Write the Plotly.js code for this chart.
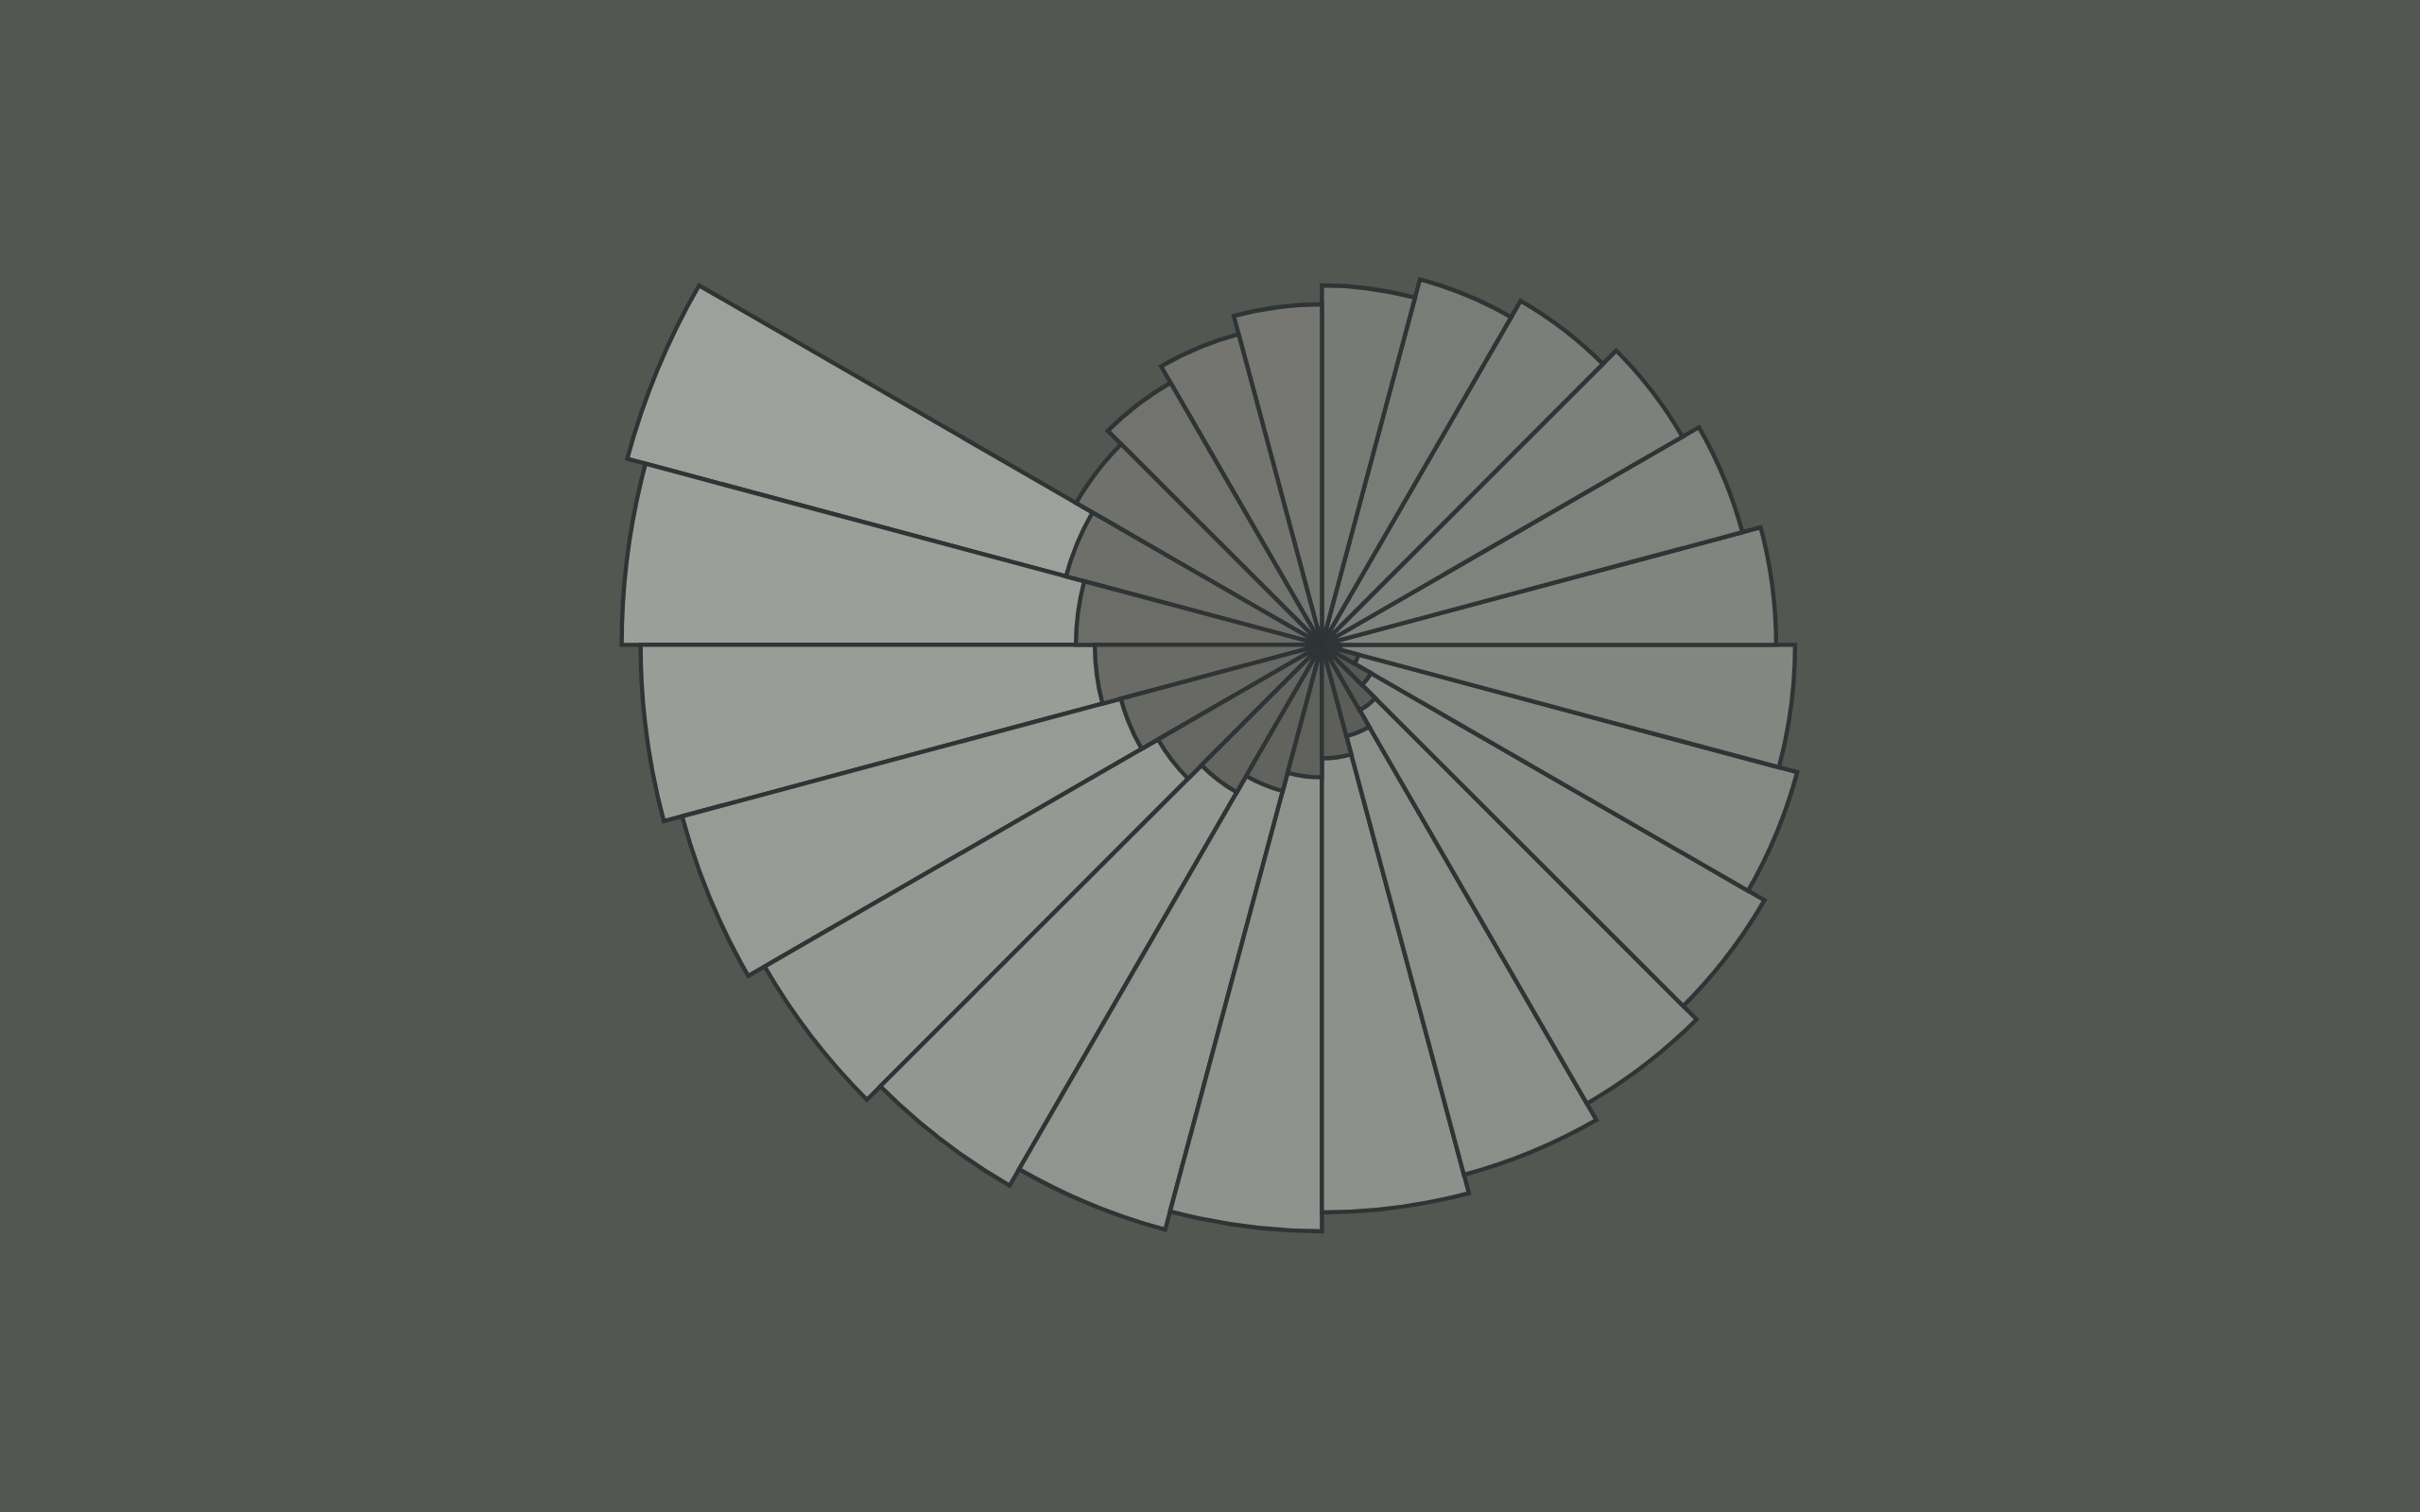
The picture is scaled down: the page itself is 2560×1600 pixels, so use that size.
<!DOCTYPE html>
<html>
<head>
<meta charset="utf-8">
<script src="https://cdn.plot.ly/plotly-3.0.1.min.js"></script>
<style>
  html, body { margin: 0; padding: 0; background: #545651; overflow: hidden; }
  #spiral { position: absolute; left: 0; top: -100px; width: 2560px; height: 1800px; }
</style>
</head>
<body>
<div id="spiral"></div>
<script>
// spiral of 15 degree wedges (first turn, then second turn)
var angles = [97.5, 112.5, 127.5, 142.5, 157.5, 172.5, 187.5, 202.5, 217.5, 232.5,
              247.5, 262.5, 277.5, 292.5, 307.5, 322.5, 337.5, 352.5,
              7.5, 22.5, 37.5, 52.5, 67.5, 82.5, 97.5, 112.5, 127.5, 142.5,
              157.5, 172.5, 187.5, 202.5, 217.5, 232.5, 247.5, 262.5, 277.5, 292.5];
var lengths = [1, 2, 3, 4, 5, 6, 7, 8, 9, 10,
               11, 12, 13, 14, 15, 16, 17, 18,
               19, 20, 21, 22, 23, 24, 25, 26, 27, 28,
               29, 30, 31, 32, 33, 34, 35, 36, 37, 38];

// longest wedges first so the short ones of the first turn sit on top
var thetaDrawn = angles.slice().reverse();
var rDrawn = lengths.slice().reverse();

var trace = {
    type: 'barpolar',
    theta: thetaDrawn,
    r: rDrawn,
    width: 15,
    marker: {
        color: rDrawn,
        cmin: 0,
        cmax: 38,
        colorscale: [[0, 'rgb(82,83,78)'], [1, 'rgb(158,160,155)']],
        showscale: false,
        line: { color: '#2f3436', width: 4.4 }
    },
    hoverinfo: 'r+theta'
};

var layout = {
    width: 2560,
    height: 1800,
    margin: { l: 0, r: 0, t: 0, b: 0 },
    paper_bgcolor: '#545651',
    showlegend: false,
    polar: {
        domain: { x: [0.24516, 0.84734], y: [0.13711, 0.99356] },
        bgcolor: '#545651',
        barmode: 'overlay',
        radialaxis: { visible: false, range: [0, 38.5] },
        angularaxis: {
            visible: false,
            rotation: 90,
            direction: 'clockwise'
        }
    }
};

Plotly.newPlot('spiral', [trace], layout, { displayModeBar: false, staticPlot: true });
</script>
</body>
</html>
